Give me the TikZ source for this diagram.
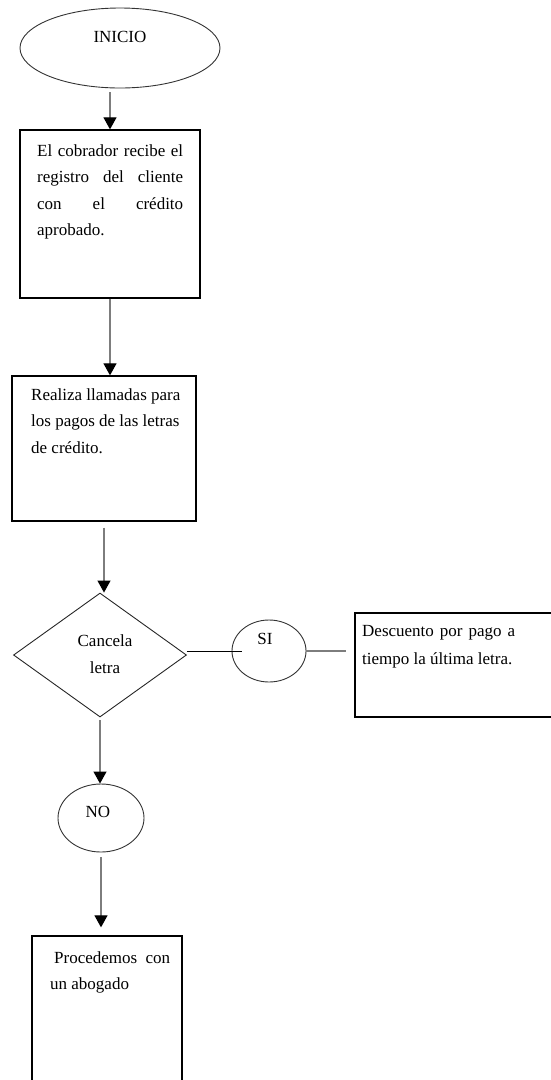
\documentclass[tikz,border=0pt]{standalone}
\usepackage{fontspec}
\setmainfont{Liberation Serif}
\usetikzlibrary{
  arrows.meta,
  positioning,
  shapes.geometric
}
\definecolor{linea}{RGB}{125,125,125}
\newcommand{\justa}[2]{\makebox[#1][s]{#2}}

\begin{document}
\begin{tikzpicture}[
  x=1pt, y=-1pt,
  every node/.style={font=\fontsize{17}{26.5}\selectfont},
  caja/.style={draw=black, line width=1.3pt, inner sep=0pt},
  globo/.style={ellipse, draw=black!80, line width=0.9pt, inner sep=0pt},
  rombo/.style={diamond, draw=black!85, line width=0.9pt, inner sep=0pt},
  texto/.style={anchor=north west, inner sep=0pt, align=left},
  flecha/.style={draw=linea, line width=1.1pt, -{Triangle[width=13pt,length=12pt,color=black]}},
  enlace/.style={draw=black, line width=0.9pt},
]
\useasboundingbox (0,0) rectangle (550,1080);

\node[globo, minimum width=200pt, minimum height=80pt] (ini) at (120,48) {};
\node (initxt) at (120,37) {INICIO};

\node[caja, minimum width=180pt, minimum height=168pt] (reg) at (110,214) {};
\node[texto] (regtxt) at (37,144)
  {\justa{146pt}{El cobrador recibe el}\\ \justa{146pt}{registro del cliente}\\
   \justa{146pt}{con el crédito}\\ aprobado.};

\node[caja, minimum width=184pt, minimum height=145pt] (llam) at (104,448.5) {};
\node[texto] (llamtxt) at (31,388)
  {Realiza llamadas para\\ los pagos de las letras\\ de crédito.};

\node[rombo, minimum width=173pt, minimum height=124pt] (canc) at (100,655) {};
\node[align=center, inner sep=0pt] (canctxt) at (105,654) {Cancela\\ letra};

\node[globo, minimum width=74pt, minimum height=62pt] (si) at (269,651) {};
\node (sitxt) at (265,639) {SI};

\node[caja, minimum width=197pt, minimum height=104pt] (desc) at (453.5,665) {};
\node[texto] (desctxt) at (362,625)
  {\justa{153pt}{Descuento por pago a}\\[2pt] tiempo la última letra.};

\node[globo, minimum width=86pt, minimum height=68pt] (no) at (101,818) {};
\node (notxt) at (98,812) {NO};

\node[caja, minimum width=150pt, minimum height=148pt] (abog) at (107,1010) {};
\node[texto] (abogtxt) at (50,951)
  {\hspace*{4pt}\justa{116pt}{Procedemos con}\\ un abogado};

% conectores
\draw[flecha, shorten <=4pt] (ini.south -| reg.north) -- (reg.north);
\draw[flecha] (reg.south) -- (reg.south |- llam.north);
\draw[flecha, shorten <=6pt] (llam.south) -- (llam.south |- canc.north);
\draw[enlace, shorten >=-10pt] (si.west -| canc.east) -- (si.west);
\draw[draw=linea, line width=1.1pt, shorten >=8pt] (si.east) -- (si.east -| desc.west);
\draw[flecha, shorten <=3pt] (canc.south) -- (canc.south |- no.north);
\draw[flecha, shorten <=5pt, shorten >=8pt] (no.south) -- (no.south |- abog.north);

\end{tikzpicture}
\end{document}
